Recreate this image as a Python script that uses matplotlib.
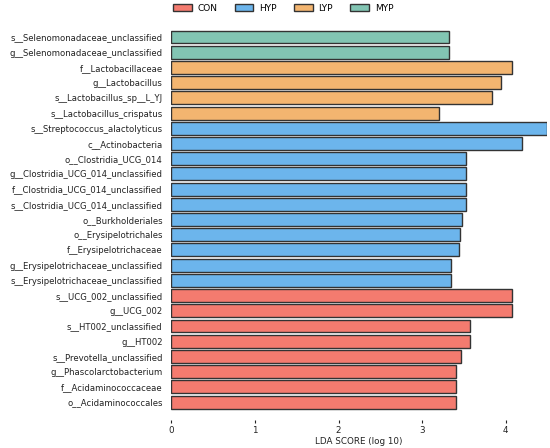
import matplotlib
matplotlib.use("Agg")
import matplotlib.pyplot as plt
from matplotlib.patches import Patch

labels = [
    "s__Selenomonadaceae_unclassified",
    "g__Selenomonadaceae_unclassified",
    "f__Lactobacillaceae",
    "g__Lactobacillus",
    "s__Lactobacillus_sp__L_YJ",
    "s__Lactobacillus_crispatus",
    "s__Streptococcus_alactolyticus",
    "c__Actinobacteria",
    "o__Clostridia_UCG_014",
    "g__Clostridia_UCG_014_unclassified",
    "f__Clostridia_UCG_014_unclassified",
    "s__Clostridia_UCG_014_unclassified",
    "o__Burkholderiales",
    "o__Erysipelotrichales",
    "f__Erysipelotrichaceae",
    "g__Erysipelotrichaceae_unclassified",
    "s__Erysipelotrichaceae_unclassified",
    "s__UCG_002_unclassified",
    "g__UCG_002",
    "s__HT002_unclassified",
    "g__HT002",
    "s__Prevotella_unclassified",
    "g__Phascolarctobacterium",
    "f__Acidaminococcaceae",
    "o__Acidaminococcales",
]
scores = [3.32, 3.32, 4.07, 3.94, 3.84, 3.20, 4.49, 4.20, 3.52, 3.52, 3.52, 3.52,
          3.48, 3.45, 3.44, 3.34, 3.34, 4.07, 4.08, 3.57, 3.57, 3.47, 3.40, 3.40, 3.40]
groups = ["MYP", "MYP", "LYP", "LYP", "LYP", "LYP", "HYP", "HYP", "HYP", "HYP", "HYP", "HYP",
          "HYP", "HYP", "HYP", "HYP", "HYP", "CON", "CON", "CON", "CON", "CON", "CON", "CON", "CON"]
group_names = ["CON", "HYP", "LYP", "MYP"]
group_colors = ["#f47b6f", "#6cb5ec", "#f3b570", "#82c5b3"]

cmap = dict(zip(group_names, group_colors))
fig = plt.figure(figsize=(5.5, 4.48), dpi=100)
ax = fig.add_axes([0.3116, 0.0625, 0.6824, 0.895])

ypos = list(range(len(labels)))
ax.barh(ypos, scores, height=0.85, color=[cmap[g] for g in groups],
        edgecolor="#333333", linewidth=1.0)
ax.set_yticks(ypos)
ax.set_yticklabels(labels, fontsize=6.1, color="#222222")
ax.set_ylim(25.18, -1.18)
ax.set_xlim(0, 4.49)
ax.set_xticks([0, 1, 2, 3, 4])
ax.tick_params(axis="x", labelsize=6.3, length=2.5, width=0.8, colors="#222222", pad=1.5)
ax.tick_params(axis="y", length=0, pad=6.3)
for s in ax.spines.values():
    s.set_visible(False)
ax.set_xlabel("LDA SCORE (log 10)", fontsize=6.3, color="#222222", labelpad=2)

handles = [Patch(facecolor=c, edgecolor="#333333", linewidth=1.0, label=n)
           for n, c in zip(group_names, group_colors)]
fig.legend(handles=handles, loc="upper center", bbox_to_anchor=(0.515, 1.01), ncol=4,
           frameon=False, fontsize=6.5, handlelength=2.05, handleheight=0.78,
           columnspacing=1.9, handletextpad=0.66)

fig.savefig("out.png", dpi=100)
